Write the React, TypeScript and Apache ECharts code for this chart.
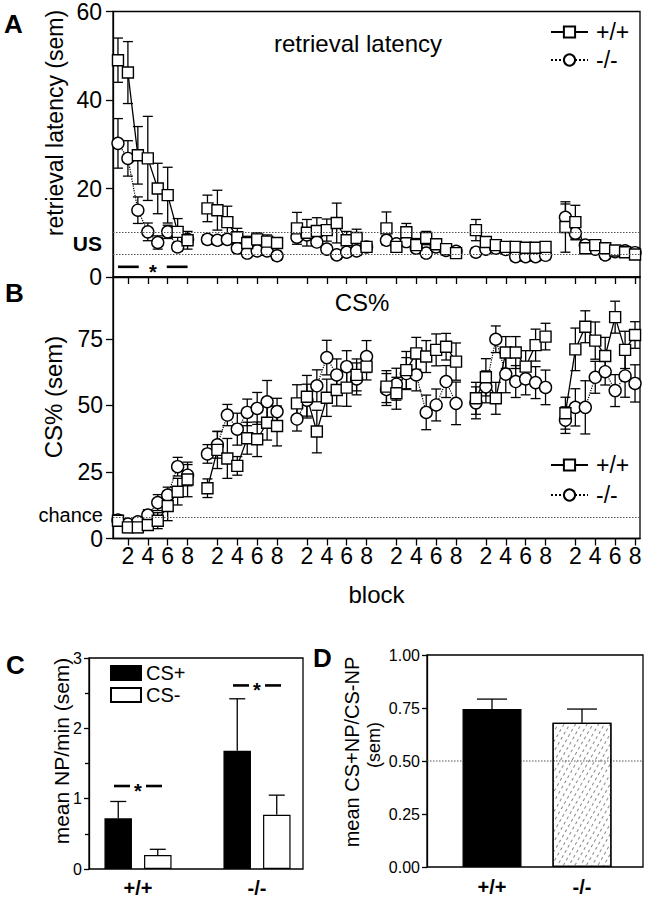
import React, { useEffect, useRef } from 'react';
import * as echarts from 'echarts';

const FONT = "'Liberation Sans', Arial, Helvetica, sans-serif";

// ---------- shared block axis (6 sessions x 8 blocks) ----------
const SESSIONS = 6;
const BLOCKS = 8;

// ---------- Panel A: retrieval latency ----------
const A_Y_TICKS = [0, 20, 40, 60];
const US_LABEL_AT = 7.5;
const US_LINES = [10.2, 5.2];
const A_SIG_Y = 2.3;
const A_WT_MEAN = [
  [49, 46.2, 27.5, 26.8, 20, 18.5, 10.2, 8.3],
  [15.5, 15.1, 12.4, 9.0, 7.7, 8.5, 8.0, 7.7],
  [11.0, 10.0, 10.4, 10.6, 12.2, 8.3, 8.8, 6.8],
  [11.0, 6.8, 10.1, 7.2, 8.8, 7.4, 6.3, 5.4],
  [10.6, 7.9, 7.2, 6.8, 6.8, 6.6, 6.6, 6.8],
  [11.3, 12.4, 6.5, 7.2, 6.5, 6.0, 5.6, 5.1],
];
const A_WT_SEM = [
  [5, 7, 6.5, 9.5, 5.7, 6.3, 3, 2],
  [3, 4.5, 3.6, 2, 1.5, 1.5, 1.5, 1],
  [3.6, 3, 3, 2.5, 4.5, 2, 2, 1],
  [3.7, 1, 2, 1.5, 1.5, 1, 1, 0.8],
  [2.4, 1, 1, 1, 1, 1, 1, 1],
  [5.7, 3.8, 1.2, 1, 1, 1, 1, 0.8],
];
const A_KO_MEAN = [
  [30.2, 26.8, 15.1, 10.2, 7.8, 10.2, 6.8, 8.5],
  [8.5, 8.3, 8.5, 6.5, 5.4, 5.9, 5.9, 4.8],
  [9.0, 9.5, 7.9, 6.3, 5.0, 5.6, 5.9, 6.8],
  [8.3, 7.5, 8.0, 6.5, 5.4, 6.8, 6.0, 5.8],
  [5.6, 6.3, 6.5, 6.2, 4.6, 4.6, 4.6, 4.9],
  [13.5, 9.9, 7.2, 6.3, 5.0, 5.7, 5.9, 5.5],
];
const A_KO_SEM = [
  [5.6, 4, 3, 2, 1.5, 1.5, 1, 1],
  [1, 1, 1, 1, 1, 1, 1, 1],
  [1, 1, 1, 1, 1, 1, 1, 1],
  [1, 1, 1, 1, 1, 1, 1, 1],
  [1, 1, 1, 1, 1, 1, 1, 1],
  [3, 1.5, 1, 1, 1, 1, 1, 1],
];

// ---------- Panel B: CS% ----------
const B_Y_TICKS = [0, 25, 50, 75];
const B_Y_MAX = 98.3;
const CHANCE = 8;
const B_WT_MEAN = [
  [6.7, 4.2, 4.2, 5.1, 6.7, 12.2, 17.6, 22.2],
  [18.9, 33.3, 30.1, 27.3, 37.7, 37.3, 43.5, 42.3],
  [50.8, 53.3, 40.2, 52.9, 55.8, 56.7, 61.5, 64.6],
  [57.1, 54.6, 63.3, 69.6, 68.4, 70.9, 72.1, 66.5],
  [52.7, 60.6, 52.7, 69.9, 69.9, 64.6, 72.7, 75.9],
  [47.1, 71.1, 79.6, 74.4, 68.6, 83.2, 70.9, 76.5],
];
const B_WT_SEM = [
  [2, 2, 2, 2, 3, 5.5, 5, 6.5],
  [3.5, 7, 7.5, 3.5, 6, 6.5, 6.5, 7.5],
  [7, 8, 8, 7, 6, 7, 6, 5],
  [6, 6, 7, 6, 6, 6, 5, 7],
  [6, 7, 6, 6, 6, 6, 6, 5],
  [6, 8, 6, 7, 7, 6, 7, 5],
];
const B_KO_MEAN = [
  [6.9, 5.4, 6.3, 8.8, 13.5, 16.3, 27, 23.8],
  [31.8, 35.2, 46.4, 41.1, 47.4, 48.9, 51.4, 47.7],
  [44.9, 52, 57.4, 68, 61.5, 64.6, 60, 68.4],
  [56, 58, 62, 61.5, 47.4, 50.2, 59, 50.8],
  [51, 57, 74.9, 61.8, 59, 60, 58.6, 56.8],
  [44.5, 49.3, 49.3, 60.6, 62.7, 55.6, 61.1, 58.3],
];
const B_KO_SEM = [
  [1.5, 1.5, 1.5, 2, 3, 3, 3.5, 4],
  [3.5, 5, 4, 6, 5, 6, 8, 5],
  [4.5, 6, 6, 6.5, 6, 6, 6, 6],
  [6, 6, 6, 6, 6.5, 6, 6, 8],
  [6, 6, 5, 7, 6, 6, 6, 6.5],
  [5, 7, 10, 6, 5, 6, 8, 7],
];

// ---------- Panel C: mean NP/min ----------
const GENOTYPES = ['+/+', '-/-'];
const C_CSP_MEAN = [0.72, 1.68];
const C_CSP_SEM = [0.24, 0.74];
const C_CSM_MEAN = [0.2, 0.77];
const C_CSM_SEM = [0.08, 0.28];
const C_SIG_Y = [1.18, 2.61];

// ---------- Panel D: ratio ----------
const D_MEAN = [0.745, 0.68];
const D_SEM = [0.047, 0.065];
const D_REF = 0.5;

// ---------- helpers ----------
const CATS: string[] = [];
for (let s = 1; s <= SESSIONS; s++) {
  for (let b = 1; b <= BLOCKS; b++) CATS.push(`${s}:${b}`);
  if (s < SESSIONS) CATS.push(`gap${s}`);
}
const isEvenBlock = (_i: number, v: string) => {
  const p = String(v).split(':');
  return p.length === 2 && Number(p[1]) % 2 === 0;
};
const slotIndex = (s: number, b: number) => s * (BLOCKS + 1) + b;
const toSlots = (groups: number[][]) => {
  const out: (number | string)[] = [];
  groups.forEach((g, s) => {
    out.push(...g);
    if (s < groups.length - 1) out.push('-');
  });
  return out;
};
const toErr = (means: number[][], sems: number[][]) => {
  const out: number[][] = [];
  means.forEach((g, s) => g.forEach((m, b) => out.push([slotIndex(s, b), m - sems[s][b], m + sems[s][b]])));
  return out;
};

const BLACK = '#000';
const AX_LINE = { color: BLACK, width: 1.3 };

const errRender = (capHalf: number, offset: number, bothSides: boolean) => (_p: any, api: any) => {
  const x = api.value(0);
  const hi = api.coord([x, api.value(2)]);
  const lo = api.coord([x, api.value(1)]);
  const cx = hi[0] + offset;
  const st = { stroke: BLACK, lineWidth: 1.3 };
  const children: any[] = [
    { type: 'line', shape: { x1: cx, y1: hi[1], x2: cx, y2: lo[1] }, style: st },
    { type: 'line', shape: { x1: cx - capHalf, y1: hi[1], x2: cx + capHalf, y2: hi[1] }, style: st },
  ];
  if (bothSides) children.push({ type: 'line', shape: { x1: cx - capHalf, y1: lo[1], x2: cx + capHalf, y2: lo[1] }, style: st });
  return { type: 'group', children };
};

const sigSpanRender = (gap: number) => (_p: any, api: any) => {
  const y = api.value(2);
  const l = api.coord([api.value(0), y]);
  const r = api.coord([api.value(1), y]);
  const c = (l[0] + r[0]) / 2;
  const st = { stroke: BLACK, lineWidth: 2.6 };
  return {
    type: 'group',
    children: [
      { type: 'line', shape: { x1: l[0], y1: l[1], x2: c - gap, y2: l[1] }, style: st },
      { type: 'line', shape: { x1: c + gap, y1: l[1], x2: r[0], y2: l[1] }, style: st },
      { type: 'text', x: c, y: l[1] + 5, style: { text: '*', font: `bold 20px ${FONT}`, fill: BLACK, align: 'center', verticalAlign: 'middle' } },
    ],
  };
};

const sigCenterRender = (half: number, gap: number) => (_p: any, api: any) => {
  const p = api.coord([api.value(0), api.value(1)]);
  const st = { stroke: BLACK, lineWidth: 2.6 };
  return {
    type: 'group',
    children: [
      { type: 'line', shape: { x1: p[0] - half, y1: p[1], x2: p[0] - gap, y2: p[1] }, style: st },
      { type: 'line', shape: { x1: p[0] + gap, y1: p[1], x2: p[0] + half, y2: p[1] }, style: st },
      { type: 'text', x: p[0], y: p[1] + 5, style: { text: '*', font: `bold 20px ${FONT}`, fill: BLACK, align: 'center', verticalAlign: 'middle' } },
    ],
  };
};

const hlineRender = (_p: any, api: any) => {
  const a = api.coord([0, api.value(1)]);
  const b = api.coord([1, api.value(1)]);
  return { type: 'line', shape: { x1: a[0], y1: a[1], x2: b[0], y2: b[1] }, style: { stroke: '#555', lineWidth: 1, lineDash: [1.5, 1.5] } };
};

const blockAxis = (gridIndex: number, showLabels: boolean, name?: string) => ({
  type: 'category',
  gridIndex,
  data: CATS,
  boundaryGap: true,
  name,
  nameLocation: 'middle',
  nameGap: 44,
  nameTextStyle: { fontSize: 24, color: BLACK, fontFamily: FONT },
  axisLine: { lineStyle: AX_LINE },
  axisTick: { show: true, alignWithLabel: true, interval: isEvenBlock, length: 7, lineStyle: AX_LINE },
  axisLabel: {
    show: showLabels,
    interval: isEvenBlock,
    formatter: (v: string) => String(v).split(':')[1] ?? '',
    fontSize: 23,
    color: BLACK,
    fontFamily: FONT,
    margin: 6,
  },
  splitLine: { show: false },
});

const lineSeries = (name: string, ax: number, means: number[][], wt: boolean, markLine?: any) => ({
  type: 'line',
  name,
  xAxisIndex: ax,
  yAxisIndex: ax,
  data: toSlots(means),
  connectNulls: false,
  showAllSymbol: true,
  symbol: wt ? 'rect' : 'circle',
  symbolSize: wt ? 11 : 12,
  itemStyle: { color: '#fff', borderColor: BLACK, borderWidth: 1.4 },
  lineStyle: { color: BLACK, width: wt ? 1.3 : 1.2, type: wt ? 'solid' : 'dotted' },
  emphasis: { disabled: true },
  markLine,
});

const errSeries = (name: string, ax: number, means: number[][], sems: number[][]) => ({
  type: 'custom',
  name,
  xAxisIndex: ax,
  yAxisIndex: ax,
  data: toErr(means, sems),
  renderItem: errRender(5, 0, true),
  silent: true,
});

const dottedML = (values: number[]) => ({
  silent: true,
  symbol: ['none', 'none'],
  label: { show: false },
  lineStyle: { type: [1.5, 1.5], color: '#555', width: 1 },
  data: values.map((v) => ({ yAxis: v })),
});

const textG = (text: string, x: number, y: number, size: number, opts: any = {}) => ({
  type: 'text',
  x,
  y,
  rotation: opts.rotation ?? 0,
  style: {
    text,
    font: `${opts.bold ? 'bold ' : ''}${size}px ${FONT}`,
    fill: BLACK,
    align: opts.align ?? 'center',
    verticalAlign: 'middle',
  },
});

export default function App() {
  const ref = useRef<HTMLDivElement>(null);
  useEffect(() => {
    if (!ref.current) return;
    const chart = echarts.init(ref.current, undefined, { renderer: 'svg' });
    const legendBase = {
      orient: 'vertical',
      padding: 0,
      selectedMode: false,
      textStyle: { fontSize: 23, color: BLACK, fontFamily: FONT, lineHeight: 23, padding: [0, 0, 0, 3] },
      itemWidth: 37,
      itemHeight: 14,
    };
    const option: any = {
      animation: false,
      backgroundColor: '#fff',
      textStyle: { fontFamily: FONT },
      grid: [
        { left: 113, top: 11, width: 527, height: 266, show: true, borderColor: BLACK, borderWidth: 1.3, containLabel: false },
        { left: 113, top: 277, width: 527, height: 261.5, show: true, borderColor: BLACK, borderWidth: 1.3 },
        { left: 89, top: 658, width: 214, height: 211, show: true, borderColor: BLACK, borderWidth: 1.3 },
        { left: 78.5, top: 658, width: 238, height: 211 },
        { left: 427, top: 655, width: 216, height: 212, show: true, borderColor: BLACK, borderWidth: 1.3 },
        { left: 447, top: 655, width: 180, height: 212 },
      ],
      xAxis: [
        blockAxis(0, false),
        blockAxis(1, true, 'block'),
        { type: 'value', gridIndex: 2, min: 0, max: 1, show: false },
        {
          type: 'category', gridIndex: 3, data: GENOTYPES,
          axisLine: { show: false }, axisTick: { show: false },
          axisLabel: { fontSize: 20, fontWeight: 'bold', color: BLACK, fontFamily: FONT, margin: 9 },
        },
        { type: 'value', gridIndex: 4, min: 0, max: 1, show: false },
        {
          type: 'category', gridIndex: 5, data: GENOTYPES,
          axisLine: { show: false }, axisTick: { show: false },
          axisLabel: { fontSize: 20, fontWeight: 'bold', color: BLACK, fontFamily: FONT, margin: 10 },
        },
      ],
      yAxis: [
        {
          type: 'value', gridIndex: 0, min: 0, max: 60, interval: 20,
          axisLine: { show: true, lineStyle: AX_LINE },
          axisTick: { show: true, length: 7, lineStyle: AX_LINE, customValues: A_Y_TICKS },
          axisLabel: {
            customValues: [...A_Y_TICKS, US_LABEL_AT],
            formatter: (v: number) => (v === US_LABEL_AT ? '{us|US}' : String(v)),
            fontSize: 23, margin: 11, color: BLACK, fontFamily: FONT,
            rich: { us: { fontSize: 21, fontWeight: 'bold', fontFamily: FONT, color: BLACK } },
          },
          splitLine: { show: false },
        },
        {
          type: 'value', gridIndex: 1, min: 0, max: B_Y_MAX, interval: 25,
          axisLine: { show: true, lineStyle: AX_LINE },
          axisTick: { show: true, length: 7, lineStyle: AX_LINE, customValues: B_Y_TICKS },
          axisLabel: {
            customValues: [...B_Y_TICKS, CHANCE],
            formatter: (v: number) => (v === CHANCE ? '{ch|chance}' : String(v)),
            fontSize: 23, lineHeight: 19, margin: 10, color: BLACK, fontFamily: FONT,
            rich: { ch: { fontSize: 20, lineHeight: 17, padding: [0, 0, 4, 0], fontFamily: FONT, color: BLACK } },
          },
          splitLine: { show: false },
        },
        {
          type: 'value', gridIndex: 2, min: 0, max: 3, interval: 1,
          axisLine: { show: true, lineStyle: AX_LINE },
          axisTick: { show: true, length: 5, lineStyle: AX_LINE },
          minorTick: { show: true, splitNumber: 2, length: 4, lineStyle: AX_LINE },
          axisLabel: { fontSize: 16, margin: 7, color: BLACK, fontFamily: FONT },
          splitLine: { show: false },
        },
        { type: 'value', gridIndex: 3, min: 0, max: 3, show: false },
        {
          type: 'value', gridIndex: 4, min: 0, max: 1, interval: 0.25,
          axisLine: { show: true, lineStyle: AX_LINE },
          axisTick: { show: true, length: 5, lineStyle: AX_LINE },
          axisLabel: { fontSize: 16, margin: 7, color: BLACK, fontFamily: FONT, formatter: (v: number) => v.toFixed(2) },
          splitLine: { show: false },
        },
        { type: 'value', gridIndex: 5, min: 0, max: 1, show: false },
      ],
      legend: [
        { ...legendBase, left: 550, top: 20.5, itemGap: 5, data: ['+/+', '-/-'] },
        { ...legendBase, left: 550, top: 453.5, itemGap: 7, data: ['+/+', '-/-'] },
        {
          orient: 'vertical', padding: 0, selectedMode: false, left: 110, top: 663, itemGap: 2,
          itemWidth: 30, itemHeight: 14, icon: 'rect',
          textStyle: { fontSize: 20, lineHeight: 20, color: BLACK, fontFamily: FONT, padding: [0, 0, 0, 0] },
          data: ['CS+', 'CS-'],
        },
      ],
      series: [
        // Panel A
        errSeries('errA-', 0, A_KO_MEAN, A_KO_SEM),
        lineSeries('-/-', 0, A_KO_MEAN, false, dottedML(US_LINES)),
        errSeries('errA+', 0, A_WT_MEAN, A_WT_SEM),
        lineSeries('+/+', 0, A_WT_MEAN, true),
        {
          type: 'custom', name: 'sigA', xAxisIndex: 0, yAxisIndex: 0, silent: true,
          data: [[slotIndex(0, 0), slotIndex(0, BLOCKS - 1), A_SIG_Y]],
          renderItem: sigSpanRender(14),
        },
        // Panel B
        errSeries('errB-', 1, B_KO_MEAN, B_KO_SEM),
        lineSeries('-/-', 1, B_KO_MEAN, false, dottedML([CHANCE])),
        errSeries('errB+', 1, B_WT_MEAN, B_WT_SEM),
        lineSeries('+/+', 1, B_WT_MEAN, true),
        // Panel C
        {
          type: 'bar', name: 'CS+', xAxisIndex: 3, yAxisIndex: 3, data: C_CSP_MEAN,
          barWidth: 27.5, barGap: '44%',
          itemStyle: { color: BLACK, borderColor: BLACK, borderWidth: 1.2 },
        },
        {
          type: 'bar', name: 'CS-', xAxisIndex: 3, yAxisIndex: 3, data: C_CSM_MEAN,
          barWidth: 27.5, barGap: '44%',
          itemStyle: { color: '#fff', borderColor: BLACK, borderWidth: 1.2 },
        },
        {
          type: 'custom', name: 'errC+', xAxisIndex: 3, yAxisIndex: 3, silent: true,
          data: C_CSP_MEAN.map((m, i) => [i, m, m + C_CSP_SEM[i]]),
          renderItem: errRender(8, -19.75, false),
        },
        {
          type: 'custom', name: 'errC-', xAxisIndex: 3, yAxisIndex: 3, silent: true,
          data: C_CSM_MEAN.map((m, i) => [i, m, m + C_CSM_SEM[i]]),
          renderItem: errRender(8, 19.75, false),
        },
        {
          type: 'custom', name: 'sigC', xAxisIndex: 3, yAxisIndex: 3, silent: true,
          data: C_SIG_Y.map((y, i) => [i, y]),
          renderItem: sigCenterRender(24, 8),
        },
        // Panel D
        {
          type: 'custom', name: 'refD', xAxisIndex: 4, yAxisIndex: 4, silent: true, z: 1,
          data: [[0, D_REF]],
          renderItem: hlineRender,
        },
        {
          type: 'bar', name: 'ratio', xAxisIndex: 5, yAxisIndex: 5, barWidth: 59, z: 3,
          data: [
            { value: D_MEAN[0], itemStyle: { color: BLACK, borderColor: BLACK, borderWidth: 1.2 } },
            {
              value: D_MEAN[1],
              itemStyle: {
                color: 'rgba(255,255,255,0)', borderColor: BLACK, borderWidth: 1.2,
                decal: {
                  symbol: 'rect', symbolSize: 1, color: '#888', backgroundColor: null,
                  dashArrayX: [[3, 3]], dashArrayY: [1, 3.5], rotation: -Math.PI / 3,
                },
              },
            },
          ],
        },
        {
          type: 'custom', name: 'errD', xAxisIndex: 5, yAxisIndex: 5, silent: true, z: 4,
          data: D_MEAN.map((m, i) => [i, m, m + D_SEM[i]]),
          renderItem: errRender(15, 0, false),
        },
      ],
      graphic: [
        textG('A', 4, 24, 26, { bold: true, align: 'left' }),
        textG('B', 5, 293, 26, { bold: true, align: 'left' }),
        textG('C', 6, 665, 26, { bold: true, align: 'left' }),
        textG('D', 313, 658, 26, { bold: true, align: 'left' }),
        textG('retrieval latency', 358, 43, 24),
        textG('CS%', 362, 302, 24),
        textG('retrieval latency (sem)', 55, 123, 23, { rotation: Math.PI / 2 }),
        textG('CS% (sem)', 53, 397, 24, { rotation: Math.PI / 2 }),
        textG('mean NP/min (sem)', 61, 751, 21, { rotation: Math.PI / 2 }),
        textG('mean CS+NP/CS-NP', 352, 752, 20, { rotation: Math.PI / 2 }),
        textG('(sem)', 374, 745, 18, { rotation: Math.PI / 2 }),
      ],
    };
    chart.setOption(option);
    return () => chart.dispose();
  }, []);
  return <div ref={ref} style={{ position: 'fixed', left: 0, top: 0, width: 655, height: 899, background: '#fff' }} />;
}
